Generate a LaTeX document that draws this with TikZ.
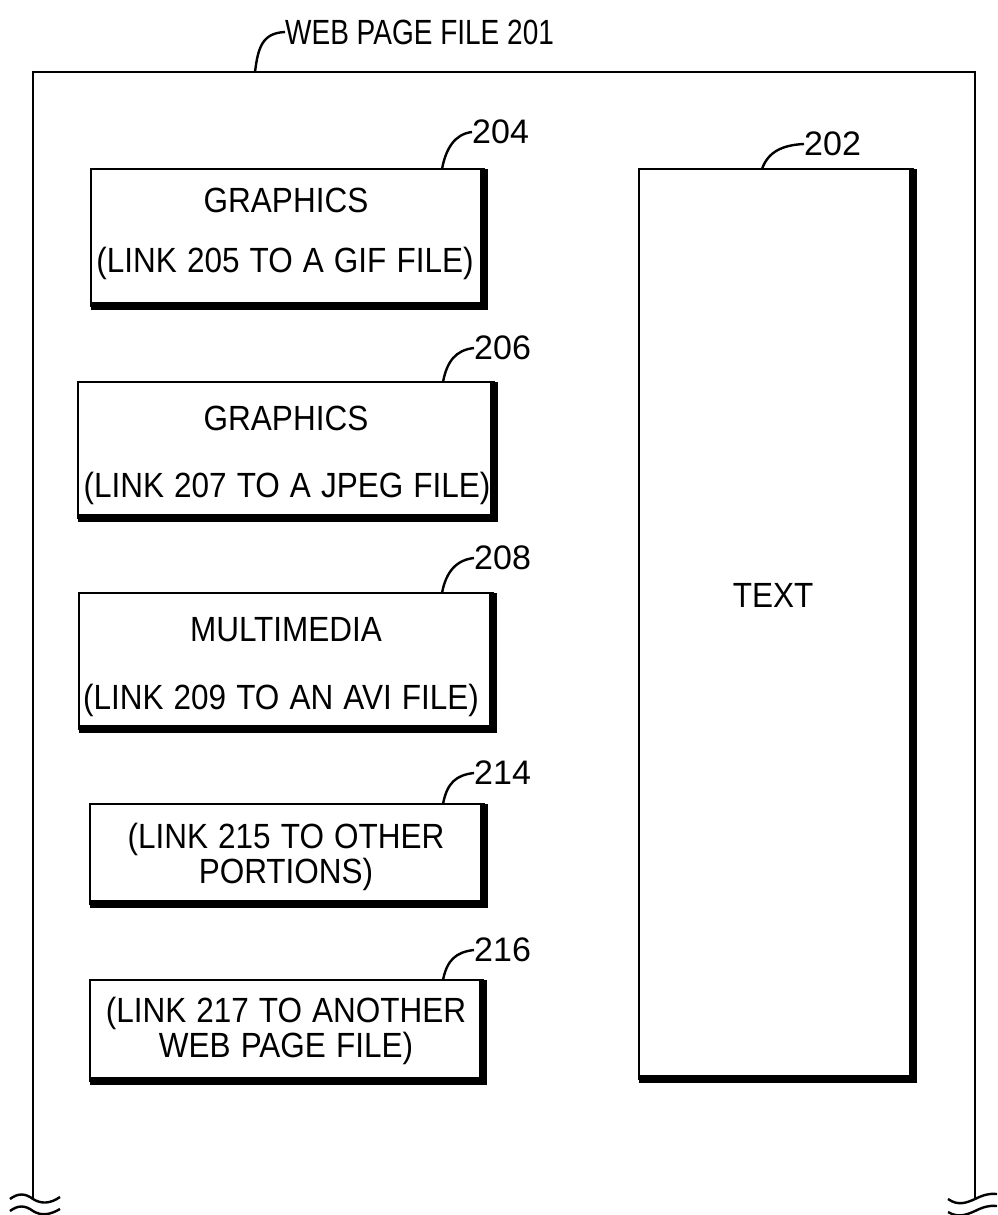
\documentclass[tikz,border=0pt]{standalone}
\usepackage{fontspec}
\setmainfont{Liberation Sans}
\newfontfamily\condfont{Liberation Sans}[FakeStretch=0.9,WordSpace=1.15]
\newfontfamily\titlefont{Liberation Sans}[FakeStretch=0.8]
\usetikzlibrary{fit}
\begin{document}
\begin{tikzpicture}[x=1pt,y=-1pt,
  every node/.style={font=\condfont\fontsize{35}{35}\selectfont, inner sep=0pt},
  numlabel/.style={anchor=west, font=\fontsize{34}{35}\selectfont},
  frameline/.style={line width=2.6pt},
  boxline/.style={draw, rectangle, line width=2.6pt, outer sep=0pt, inner sep=0pt},
  shadeline/.style={line width=8pt, line join=miter},
  leader/.style={line width=2.4pt},
  wave/.style={line width=2.4pt},
  txt/.style={align=center}]
\useasboundingbox (0,0) rectangle (997,1215);
% outer frame
\coordinate (fbl) at (33,1198);
\coordinate (ftl) at (33,72);
\coordinate (ftr) at (975,72);
\coordinate (fbr) at (975,1198);
\draw[frameline] (fbl) -- (ftl) -- (ftr) -- (fbr);
% break marks
\draw[wave] (10,1199) .. controls (18,1193) and (25,1193) .. (33,1199) .. controls (41,1204) and (50,1204) .. (60,1197);
\draw[wave] (10,1211) .. controls (18,1205) and (25,1205) .. (33,1211) .. controls (41,1216) and (50,1215) .. (60,1209);
\draw[wave] (948,1199) .. controls (958,1206) and (966,1203) .. (975,1199) .. controls (983,1195) and (990,1193) .. (997,1194);
\draw[wave] (948,1212) .. controls (958,1218) and (966,1215) .. (975,1211) .. controls (983,1207) and (990,1205) .. (997,1206);
% title
\node[anchor=west, font=\titlefont\fontsize{35}{35}\selectfont] (t201) at (285,32) {WEB PAGE FILE 201};
\coordinate (l201) at (255,72);
\draw[leader] (l201) .. controls (258,48) and (262,33) .. (t201.west);
% boxes
\node[boxline, fit={(91,169) (484,306)}] (b204) {};
\draw[shadeline] (b204.north east) -- (b204.south east) -- (b204.south west);
\node[boxline, fit={(78,382) (494,518)}] (b206) {};
\draw[shadeline] (b206.north east) -- (b206.south east) -- (b206.south west);
\node[boxline, fit={(79,593) (493,729)}] (b208) {};
\draw[shadeline] (b208.north east) -- (b208.south east) -- (b208.south west);
\node[boxline, fit={(90,804) (484,904)}] (b214) {};
\draw[shadeline] (b214.north east) -- (b214.south east) -- (b214.south west);
\node[boxline, fit={(90,980) (483,1081)}] (b216) {};
\draw[shadeline] (b216.north east) -- (b216.south east) -- (b216.south west);
\node[boxline, fit={(639,169) (913,1079)}] (b202) {};
\draw[shadeline] (b202.north east) -- (b202.south east) -- (b202.south west);
% box texts
\node (g204) at (286,200) {GRAPHICS};
\node (k204) at (285,263) {(LINK 205 TO A GIF FILE)};
\node (g206) at (286,418) {GRAPHICS};
\node (k206) at (287,488) {(LINK 207 TO A JPEG FILE)};
\node (g208) at (286,630) {MULTIMEDIA};
\node (k208) at (281,700) {(LINK 209 TO AN AVI FILE)};
\node[txt] (k214) at (286,857) {(LINK 215 TO OTHER\\PORTIONS)};
\node[txt] (k216) at (286,1031) {(LINK 217 TO ANOTHER\\WEB PAGE FILE)};
\node (x202) at (773,595) {TEXT};
% reference numerals
\node[numlabel] (n204) at (472,132) {204};
\node[numlabel] (n206) at (474,348) {206};
\node[numlabel] (n208) at (474,558) {208};
\node[numlabel] (n214) at (474,773) {214};
\node[numlabel] (n216) at (474,950) {216};
\node[numlabel] (n202) at (804,144) {202};
\coordinate (p204) at (442,169);
\coordinate (p206) at (443,382);
\coordinate (p208) at (442,593);
\coordinate (p214) at (443,804);
\coordinate (p216) at (443,980);
\coordinate (p202) at (762,169);
\draw[leader] (p204) .. controls (446,148) and (455,134) .. (n204.west);
\draw[leader] (p206) .. controls (447,361) and (456,350) .. (n206.west);
\draw[leader] (p208) .. controls (446,572) and (456,560) .. (n208.west);
\draw[leader] (p214) .. controls (447,783) and (456,775) .. (n214.west);
\draw[leader] (p216) .. controls (447,960) and (456,952) .. (n216.west);
\draw[leader] (p202) .. controls (768,152) and (782,145) .. (n202.west);
\end{tikzpicture}
\end{document}
